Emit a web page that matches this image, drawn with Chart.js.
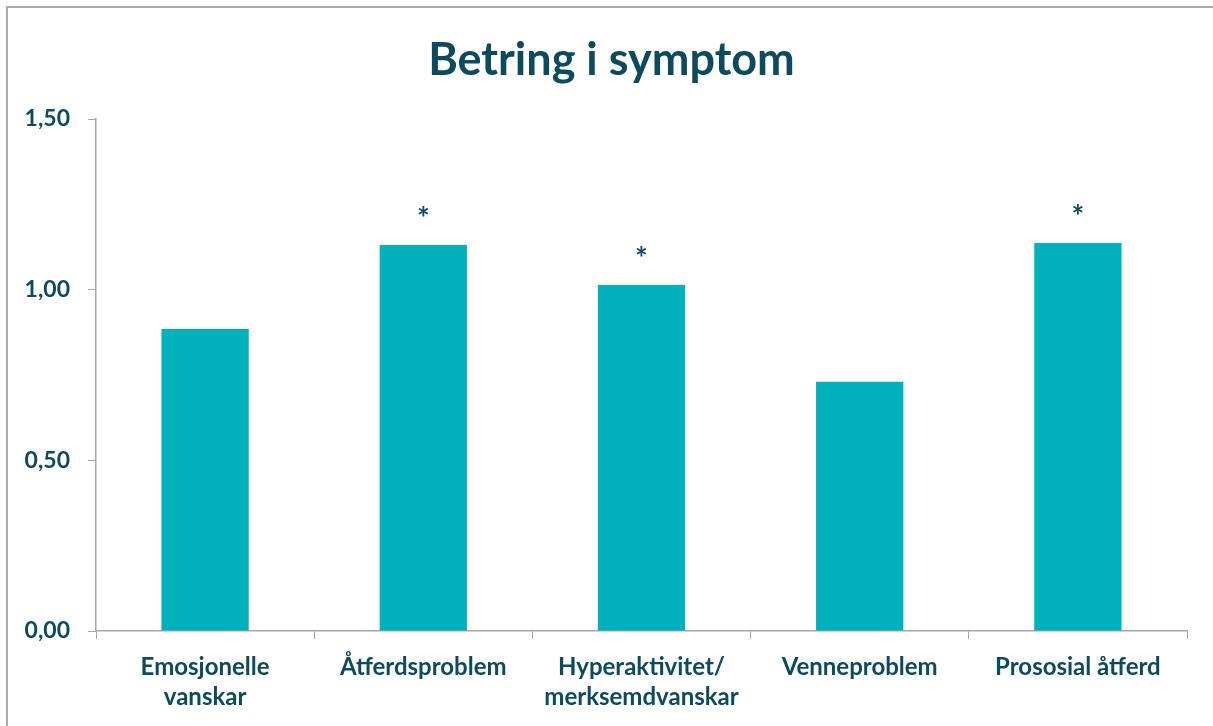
<!DOCTYPE html>
<html>
<head>
<meta charset="utf-8">
<script src="https://cdn.jsdelivr.net/npm/chart.js@4"></script>
<style>
  body { margin: 0; background: #fff; overflow: hidden; }
  .frame { position: absolute; left: 6px; top: 6px; width: 1300px; height: 800px; border: 2px solid #a9acae; box-sizing: border-box; }
  .wrap { position: absolute; left: 0; top: 0; width: 1223px; height: 726px; }
</style>
</head>
<body>
<div class="frame"></div>
<div class="wrap"><canvas id="barChart"></canvas></div>
<script>
const categories = [
  ['Emosjonelle', 'vanskar'],
  'Åtferdsproblem',
  ['Hyperaktivitet/', 'merksemdvanskar'],
  'Venneproblem',
  'Prososial åtferd'
];
const improvement = [0.885, 1.131, 1.014, 0.730, 1.137];
const significant = ['', '*', '*', '', '*'];
const yTicks = [0, 0.5, 1.0, 1.5];

const textColor = '#0d4a5c';
const axisColor = '#a3a7aa';

// asterisks above significant bars
const starPlugin = {
  id: 'stars',
  afterDatasetsDraw(chart) {
    const ctx = chart.ctx;
    const meta = chart.getDatasetMeta(0);
    ctx.save();
    ctx.fillStyle = textColor;
    ctx.font = 'bold 30px Lato';
    ctx.textAlign = 'center';
    ctx.textBaseline = 'alphabetic';
    meta.data.forEach((bar, i) => {
      if (significant[i]) ctx.fillText(significant[i], bar.x, bar.y - 16);
    });
    ctx.restore();
  }
};

new Chart(document.getElementById('barChart').getContext('2d'), {
  type: 'bar',
  data: {
    labels: categories,
    datasets: [{
      data: improvement,
      backgroundColor: '#00b0ba',
      categoryPercentage: 0.4,
      barPercentage: 1.0
    }]
  },
  plugins: [starPlugin],
  options: {
    responsive: true,
    maintainAspectRatio: false,
    animation: false,
    layout: { padding: 0 },
    plugins: {
      legend: { display: false },
      tooltip: { enabled: false },
      title: {
        display: true,
        text: 'Betring i symptom',
        color: textColor,
        font: { family: 'Lato', size: 45, weight: 'bold', lineHeight: 1.2 },
        padding: { top: 33, bottom: 32 }
      }
    },
    scales: {
      x: {
        afterFit(scale) { scale.height = 95; },
        grid: { display: true, drawOnChartArea: false, drawTicks: true, tickLength: 8, color: axisColor, offset: true },
        border: { display: true, color: axisColor, width: 1.5 },
        ticks: {
          color: textColor,
          font: { family: 'Lato', size: 24, weight: 'bold', lineHeight: 1.25 },
          padding: 13,
          maxRotation: 0,
          autoSkip: false
        }
      },
      y: {
        min: 0,
        max: 1.5,
        afterFit(scale) { scale.width = 96; },
        afterBuildTicks(scale) { scale.ticks = yTicks.map(v => ({ value: v })); },
        grid: { display: true, drawOnChartArea: false, drawTicks: true, tickLength: 8, color: axisColor },
        border: { display: true, color: axisColor, width: 1.5 },
        ticks: {
          color: textColor,
          font: { family: 'Lato', size: 23, weight: 'bold' },
          padding: 18,
          callback: v => v.toFixed(2).replace('.', ',')
        }
      },
      // empty right-hand spacer so the plot ends where the original does
      spacer: {
        type: 'linear',
        position: 'right',
        min: 0,
        max: 1.5,
        afterFit(scale) { scale.width = 36; },
        grid: { display: false },
        border: { display: false },
        ticks: { display: false }
      }
    }
  }
});
</script>
</body>
</html>
